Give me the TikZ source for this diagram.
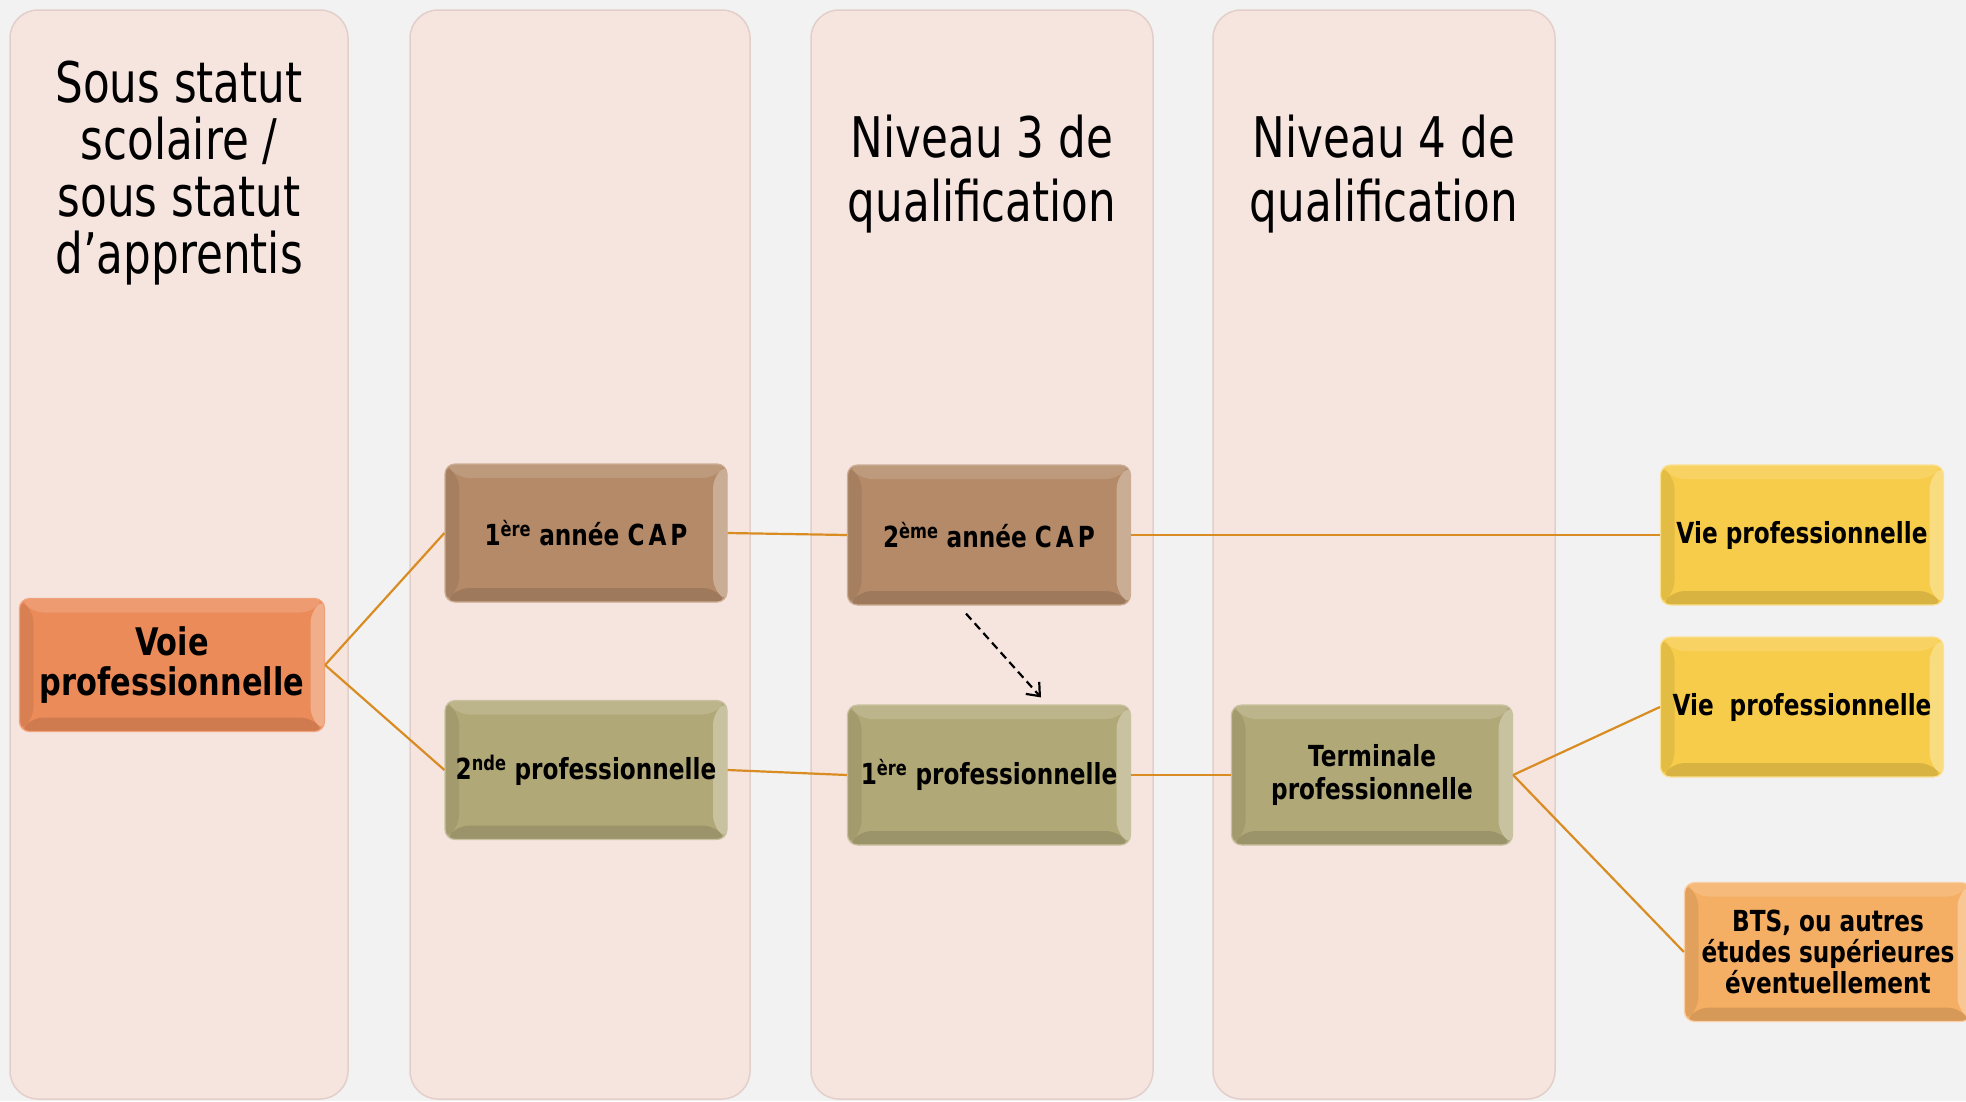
\documentclass[tikz,border=0pt]{standalone}
\usepackage{fontspec}
\setmainfont{DejaVu Sans}[FakeStretch=0.8]
\newfontfamily\headfont{DejaVu Sans}[FakeStretch=0.78]
\usetikzlibrary{calc,arrows.meta}

\definecolor{bg}{HTML}{F2F2F2}
\definecolor{colfill}{HTML}{F6E4DF}
\definecolor{colline}{HTML}{E3CFC9}
\definecolor{voiec}{HTML}{EC8B5A}
\definecolor{capc}{HTML}{B48A68}
\definecolor{olivec}{HTML}{B1A878}
\definecolor{yelc}{HTML}{F7CC4A}
\definecolor{btsc}{HTML}{F5AF65}
\definecolor{linkc}{HTML}{D98C22}

\begin{document}
\begin{tikzpicture}[x=1pt,y=-1pt,
  colbox/.style={draw=colline, line width=1.5pt, fill=colfill, rounded corners=28pt},
  bevel/.style={path picture={
    \fill[white,opacity=.14] (path picture bounding box.north west) -- (path picture bounding box.north east)
      -- ([shift={(-14pt,-14pt)}]path picture bounding box.north east) -- ([shift={(14pt,-14pt)}]path picture bounding box.north west) -- cycle;
    \fill[white,opacity=.30] (path picture bounding box.north east) -- (path picture bounding box.south east)
      -- ([shift={(-14pt,14pt)}]path picture bounding box.south east) -- ([shift={(-14pt,-14pt)}]path picture bounding box.north east) -- cycle;
    \fill[black,opacity=.08] (path picture bounding box.north west) -- ([shift={(14pt,-14pt)}]path picture bounding box.north west)
      -- ([shift={(14pt,14pt)}]path picture bounding box.south west) -- (path picture bounding box.south west) -- cycle;
    \fill[black,opacity=.12] (path picture bounding box.south west) -- ([shift={(14pt,14pt)}]path picture bounding box.south west)
      -- ([shift={(-14pt,14pt)}]path picture bounding box.south east) -- (path picture bounding box.south east) -- cycle;
  }},
  box/.style={rectangle, rounded corners=10pt, inner sep=0pt, align=center,
    font=\fontsize{29}{33}\selectfont\bfseries, bevel, line width=1.2pt},
  link/.style={draw=linkc, line width=2.2pt},
  head/.style={align=center, inner sep=0pt, font=\headfont\fontsize{56}{57}\selectfont}
]
\useasboundingbox (0,0) rectangle (1966,1101);
\fill[bg] (0,0) rectangle (1966,1101);
\clip (0,0) rectangle (1966,1101);

% columns
\draw[colbox] (10,10) rectangle (348,1099);
\draw[colbox] (410,10) rectangle (750,1099);
\draw[colbox] (811,10) rectangle (1153,1099);
\draw[colbox] (1213,10) rectangle (1555,1099);

% headers (anchor=base is the last line's baseline)
\node[head, anchor=base] (h1) at (179,273) {Sous statut\\scolaire /\\sous statut\\d’apprentis};
\node[head, font=\headfont\fontsize{56}{64}\selectfont, anchor=base] (h3) at (982,221) {Niveau 3 de\\qualification};
\node[head, font=\headfont\fontsize{56}{64}\selectfont, anchor=base] (h4) at (1384,221) {Niveau 4 de\\qualification};

% boxes
\node[box, fill=voiec, draw=voiec!80!white, minimum width=305, minimum height=133,
      font=\fontsize{38}{40}\selectfont\bfseries] (voie) at (172,665) {Voie\\professionnelle};
\node[box, fill=capc, draw=capc!70!white, minimum width=282, minimum height=138] (cap1) at (586,533)
  {1\textsuperscript{ère} année C\kern4pt A\kern4pt P};
\node[box, fill=olivec, draw=olivec!70!white, minimum width=282, minimum height=139] (pro2) at (586,770)
  {2\textsuperscript{nde} professionnelle};
\node[box, fill=capc, draw=capc!70!white, minimum width=283, minimum height=140] (cap2) at (989,535)
  {2\textsuperscript{ème} année C\kern4pt A\kern4pt P};
\node[box, fill=olivec, draw=olivec!70!white, minimum width=283, minimum height=140] (pro1) at (989,775)
  {1\textsuperscript{ère} professionnelle};
\node[box, fill=olivec, draw=olivec!70!white, minimum width=281, minimum height=140] (term) at (1372,775)
  {Terminale\\professionnelle};
\node[box, fill=yelc, draw=yelc!60!white, minimum width=283, minimum height=140] (vie1) at (1802,535)
  {Vie professionnelle};
\node[box, fill=yelc, draw=yelc!60!white, minimum width=283, minimum height=140] (vie2) at (1802,707)
  {Vie\hspace{0.55em}professionnelle};
\node[box, fill=btsc, draw=btsc!60!white, minimum width=287, minimum height=139,
      font=\fontsize{29}{31}\selectfont\bfseries] (bts) at (1828,952)
  {BTS, ou autres\\études supérieures\\éventuellement};

% connectors
\draw[link] (voie.east) -- (cap1.west);
\draw[link] (voie.east) -- (pro2.west);
\draw[link] (cap1.east) -- (cap2.west);
\draw[link] (pro2.east) -- (pro1.west);
\draw[link] (cap2.east) -- (vie1.west);
\draw[link] (pro1.east) -- (term.west);
\draw[link] (term.east) -- (vie2.west);
\draw[link] (term.east) -- (bts.west);

\coordinate (da) at ($(cap2.south)+(-23,8)$);
\coordinate (db) at ($(pro1.north)+(52,-7)$);
\draw[black, line width=2.2pt, dash pattern=on 8pt off 5pt, -{Straight Barb[length=11pt,width=18pt,line width=2.2pt]}] (da) -- (db);
\end{tikzpicture}
\end{document}
